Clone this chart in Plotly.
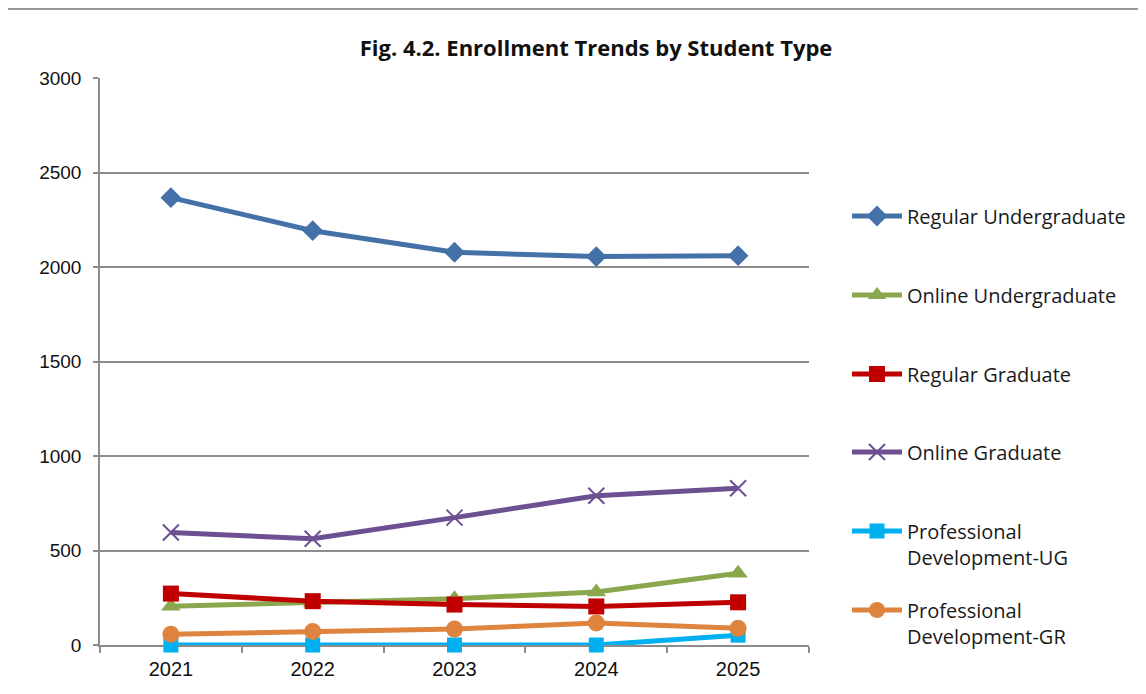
import plotly.graph_objects as go

years = ["2021", "2022", "2023", "2024", "2025"]
regular_ug = [2367, 2192, 2078, 2055, 2060]
online_ug = [205, 222, 245, 280, 380]
regular_grad = [272, 232, 214, 204, 226]
online_grad = [595, 562, 674, 790, 829]
prof_dev_ug = [0, 0, 0, 0, 52]
prof_dev_gr = [57, 72, 84, 116, 88]

names = ["Regular Undergraduate", "Online Undergraduate", "Regular Graduate",
         "Online Graduate", "Professional<br>Development-UG", "Professional<br>Development-GR"]
series = [regular_ug, online_ug, regular_grad, online_grad, prof_dev_ug, prof_dev_gr]
colors = ["#4571a9", "#8aa74e", "#c00000", "#6d5092", "#00b0f0", "#de843e"]
symbols = ["diamond", "triangle-up", "square", "x-thin", "square", "circle"]
sizes = [16, 17, 16, 16, 15, 17]

# page is offset by the browser's 8px body margin
OFF = 8
W, H = 1146 - OFF, 694 - OFF
L, R, T, B = 100 - OFF, 1146 - 809, 78 - OFF, 694 - 645
pw, ph = W - L - R, H - T - B

fig = go.Figure()
legend_centers = [216, 295, 374, 452, 544, 623]
for i, (nm, ys, c, s, sz) in enumerate(zip(names, series, colors, symbols, sizes)):
    lg = "legend" if i == 0 else f"legend{i+1}"
    marker = dict(symbol=s, size=sz, color=c)
    if s == "x-thin":
        marker["line"] = dict(color=c, width=2)
    fig.add_trace(go.Scatter(
        x=years, y=ys, name=nm, mode="lines+markers", cliponaxis=False,
        line=dict(color=c, width=5), marker=marker, legend=lg, showlegend=True,
    ))

leg_common = dict(
    xanchor="left", yanchor="middle", valign="top", visible=True,
    font=dict(family="Open Sans", size=20, color="#1a1a1a"),
    bgcolor="rgba(0,0,0,0)", itemwidth=50,
)
layout_legends = {}
for i, py in enumerate(legend_centers):
    key = "legend" if i == 0 else f"legend{i+1}"
    layout_legends[key] = dict(leg_common, x=(847 - OFF - L) / pw, y=(645 - py) / ph)

fig.update_layout(
    width=W, height=H, showlegend=True,
    margin=dict(l=L, r=R, t=T, b=B),
    paper_bgcolor="white", plot_bgcolor="white",
    title=dict(text="<b>Fig. 4.2. Enrollment Trends by Student Type</b>",
               x=(596 - OFF) / W, xanchor="center", y=1 - (48 - OFF) / H, yanchor="middle",
               font=dict(family="Open Sans", size=22, color="#111111")),
    xaxis=dict(type="category", showgrid=False, showline=True, linecolor="#8c8c8c",
               linewidth=1.5, ticks="outside", tickson="boundaries", ticklen=6,
               tickcolor="#8c8c8c", tickwidth=1.5, ticklabelstandoff=5,
               layer="below traces",
               tickfont=dict(family="Liberation Sans", size=20, color="#111111"),
               range=[-0.5, 4.5]),
    yaxis=dict(range=[0, 3000], dtick=500, showgrid=True, gridcolor="#8c8c8c",
               gridwidth=1.5, showline=True, linecolor="#8c8c8c", linewidth=1.5,
               ticks="outside", ticklen=5, tickcolor="#8c8c8c", tickwidth=1.5,
               zeroline=False, ticklabelstandoff=8, layer="below traces",
               tickfont=dict(family="Liberation Sans", size=19, color="#111111")),
    shapes=[dict(type="line", xref="paper", yref="paper",
                 x0=-L / pw, x1=(W - L) / pw, y0=(H - B - 1) / ph, y1=(H - B - 1) / ph,
                 line=dict(color="#9a9a9a", width=2))],
    **layout_legends,
)

fig.write_html("out.html")
